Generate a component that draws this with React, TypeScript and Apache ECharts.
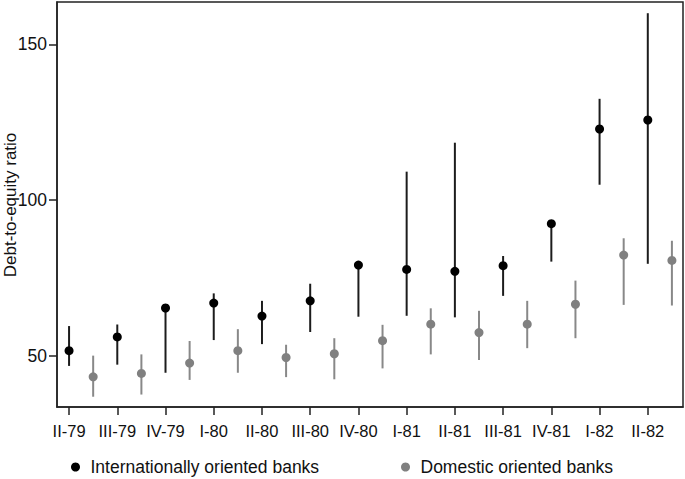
import React, { useEffect, useRef } from "react";
import * as echarts from "echarts";

const categories = ["II-79", "III-79", "IV-79", "I-80", "II-80", "III-80", "IV-80", "I-81", "II-81", "III-81", "IV-81", "I-82", "II-82"];
const intlMean = [51.6, 56.0, 65.3, 66.9, 62.7, 67.6, 79.1, 77.7, 77.1, 78.9, 92.4, 122.8, 125.7];
const intlHigh = [59.5, 60.0, 65.3, 70.0, 67.6, 73.1, 79.1, 109.1, 118.4, 82.0, 92.4, 132.5, 160.0];
const intlLow = [46.7, 47.1, 44.5, 55.0, 53.7, 57.6, 62.5, 62.8, 62.3, 69.2, 80.2, 104.9, 79.5];
const domMean = [43.2, 44.3, 47.6, 51.6, 49.4, 50.6, 54.8, 60.1, 57.4, 60.1, 66.5, 82.3, 80.6];
const domHigh = [50.0, 50.4, 54.7, 58.5, 53.5, 55.6, 59.9, 65.2, 64.4, 67.6, 74.1, 87.7, 86.9];
const domLow = [36.8, 37.5, 42.2, 44.5, 43.1, 42.4, 45.9, 50.4, 48.6, 52.4, 55.6, 66.3, 66.1];
const yTicks = [50, 100, 150];

const seriesNames = ["Internationally oriented banks", "Domestic oriented banks"];
const yAxisTitle = "Debt-to-equity ratio";
const FONT = "'Liberation Sans', Arial, sans-serif";

export default function App() {
  const ref = useRef<HTMLDivElement>(null);
  useEffect(() => {
    if (!ref.current) return;
    const chart = echarts.init(ref.current, null, { renderer: "svg" });
    const offset = 0.5;
    const intlBars = categories.map((_, i) => [i, intlLow[i], intlHigh[i]]);
    const domBars = categories.map((_, i) => [i + offset, domLow[i], domHigh[i]]);
    const intlPts = categories.map((_, i) => [i, intlMean[i]]);
    const domPts = categories.map((_, i) => [i + offset, domMean[i]]);
    const makeRender = (color: string) => (params: any, api: any) => {
      const x = api.value(0);
      const p1 = api.coord([x, api.value(1)]);
      const p2 = api.coord([x, api.value(2)]);
      return {
        type: "line",
        shape: { x1: p1[0], y1: p1[1], x2: p2[0], y2: p2[1] },
        style: { stroke: color, lineWidth: 2 },
      };
    };
    const legendText = { fontSize: 17.5, color: "#111", fontFamily: FONT, lineHeight: 20 };
    chart.setOption({
      animation: false,
      backgroundColor: "#ffffff",
      textStyle: { fontFamily: FONT },
      grid: {
        left: 57,
        right: 2,
        top: 2,
        bottom: 72,
        containLabel: false,
        outerBoundsMode: "none",
        show: true,
        borderColor: "#222",
        borderWidth: 1.5,
        backgroundColor: "transparent",
      },
      graphic: [
        {
          type: "text",
          x: 10,
          y: 205,
          rotation: Math.PI / 2,
          style: {
            text: yAxisTitle,
            fontSize: 17,
            fontFamily: FONT,
            fill: "#111",
            align: "center",
            verticalAlign: "middle",
          },
        },
      ],
      legend: [
        {
          data: [seriesNames[0]],
          left: 71,
          top: 457,
          padding: 0,
          icon: "circle",
          itemWidth: 20,
          itemHeight: 9,
          itemGap: 0,
          textStyle: legendText,
        },
        {
          data: [seriesNames[1]],
          left: 401,
          top: 457,
          padding: 0,
          icon: "circle",
          itemWidth: 20,
          itemHeight: 9,
          itemGap: 0,
          textStyle: legendText,
        },
      ],
      xAxis: {
        type: "value",
        min: -0.25,
        max: 12.73,
        axisLine: { show: true, onZero: false, lineStyle: { color: "#222", width: 1.5 } },
        axisTick: {
          show: true,
          length: 8,
          lineStyle: { color: "#222", width: 1.5 },
          customValues: categories.map((_, i) => i),
        },
        axisLabel: {
          fontSize: 16.5,
          color: "#111",
          fontFamily: FONT,
          margin: 15,
          customValues: categories.map((_, i) => i),
          formatter: (v: number) => categories[Math.round(v)] ?? "",
        },
        splitLine: { show: false },
      },
      yAxis: {
        type: "value",
        min: 33.5,
        max: 163.6,
        axisLine: { show: true, onZero: false, lineStyle: { color: "#222", width: 1.5 } },
        axisTick: {
          show: true,
          length: 8,
          lineStyle: { color: "#222", width: 1.5 },
          customValues: yTicks,
        },
        axisLabel: {
          fontSize: 17.5,
          color: "#111",
          fontFamily: FONT,
          margin: 10,
          customValues: yTicks,
        },
        splitLine: { show: false },
      },
      series: [
        {
          type: "custom",
          name: "intlBars",
          data: intlBars,
          encode: { x: 0, y: [1, 2] },
          renderItem: makeRender("#1c1c1c"),
          z: 1,
        },
        {
          type: "custom",
          name: "domBars",
          data: domBars,
          encode: { x: 0, y: [1, 2] },
          renderItem: makeRender("#888888"),
          z: 1,
        },
        {
          type: "scatter",
          name: seriesNames[0],
          data: intlPts,
          symbol: "circle",
          symbolSize: 9,
          itemStyle: { color: "#000000", opacity: 1 },
          z: 3,
        },
        {
          type: "scatter",
          name: seriesNames[1],
          data: domPts,
          symbol: "circle",
          symbolSize: 9,
          itemStyle: { color: "#808080", opacity: 1 },
          z: 3,
        },
      ],
    });
    return () => chart.dispose();
  }, []);
  return <div ref={ref} style={{ width: 685, height: 479, position: "absolute", left: 0, top: 0 }} />;
}
